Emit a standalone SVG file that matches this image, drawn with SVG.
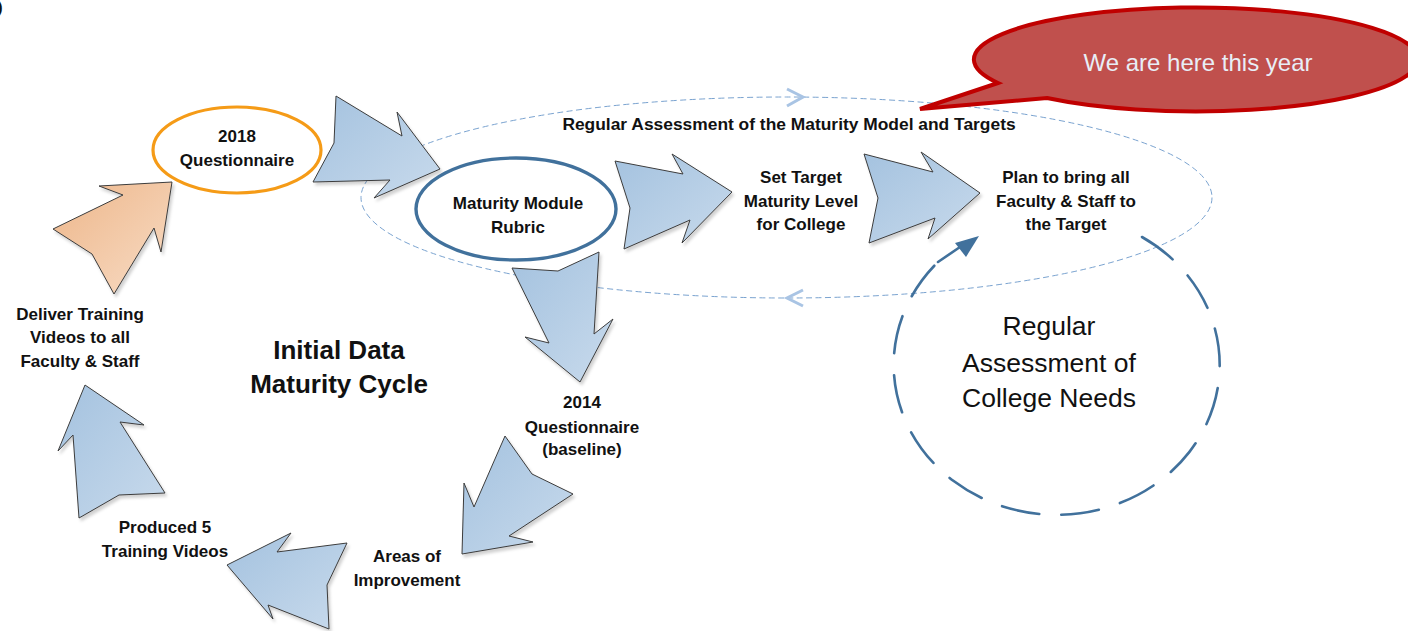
<svg xmlns="http://www.w3.org/2000/svg" width="1408" height="631" viewBox="0 0 1408 631">
  <defs>
    <linearGradient id="gBlue" x1="0" y1="0" x2="1" y2="1">
      <stop offset="0" stop-color="#A4C2DF"/>
      <stop offset="1" stop-color="#C8DAEC"/>
    </linearGradient>
    <linearGradient id="gOrange" x1="0" y1="0" x2="1" y2="1">
      <stop offset="0" stop-color="#EDB68A"/>
      <stop offset="1" stop-color="#F8DCC5"/>
    </linearGradient>
    <filter id="sh" x="-20%" y="-20%" width="140%" height="140%">
      <feDropShadow dx="2" dy="3" stdDeviation="1.5" flood-color="#000" flood-opacity="0.18"/>
    </filter>
  </defs>
  <style>
    .arrow { fill: url(#gBlue); stroke: #3C3C3C; stroke-width: 1; stroke-linejoin: miter; filter: url(#sh); }
    .arrowO { fill: url(#gOrange); stroke: #3C3C3C; stroke-width: 1; filter: url(#sh); }
    .lbl { font-family: "Liberation Sans", Arial, sans-serif; font-weight: bold; font-size: 17px; fill: #111; text-anchor: middle; }
    .big { font-family: "Liberation Sans", Arial, sans-serif; font-weight: bold; font-size: 26px; fill: #111; text-anchor: middle; }
    .reg { font-family: "Liberation Sans", Arial, sans-serif; font-size: 26.5px; fill: #111; text-anchor: middle; }
    .call { font-family: "Liberation Sans", Arial, sans-serif; font-size: 24px; fill: #E8EEF6; text-anchor: middle; }
  </style>

  <!-- clipped corner glyph -->
  <text x="-3" y="13" font-family="Liberation Sans, Arial, sans-serif" font-weight="bold" font-size="17" fill="#111">)</text>

  <!-- large dashed cycle ellipse -->
  <g id="assessment-loop">
    <ellipse cx="786.5" cy="197.5" rx="425.5" ry="100.5" fill="none" stroke="#7AA3D0" stroke-width="1" stroke-dasharray="6 3.5"/>
    <path d="M787,89 L803,97 L787,106" fill="none" stroke="#A9C4E4" stroke-width="3"/>
    <path d="M803,290 L787,298 L803,306" fill="none" stroke="#A9C4E4" stroke-width="3"/>
    <text class="lbl" x="789" y="130" style="font-size:17.4px">Regular Assessment of the Maturity Model and Targets</text>
  </g>

  <!-- dashed college-needs cycle -->
  <g id="college-needs">
    <path d="M1142,237 A163 150 0 1 1 938,262" fill="none" stroke="#41719C" stroke-width="2.6" stroke-dasharray="38 22" stroke-linecap="round"/>
    <path d="M938,262 L960,247" fill="none" stroke="#41719C" stroke-width="2.6" stroke-linecap="round"/>
    <polygon points="979,236 955,243 966,257" fill="#41719C"/>
    <text class="reg" x="1049" y="335">Regular</text>
    <text class="reg" x="1049" y="372">Assessment of</text>
    <text class="reg" x="1049" y="407">College Needs</text>
  </g>

  <!-- callout -->
  <g id="callout">
    <path d="M998,83 L920,109 L1047,98 A222 52 0 1 0 998,83 Z" fill="#C0504D" stroke="#C00000" stroke-width="4" stroke-linejoin="miter"/>
    <text class="call" x="1198" y="71">We are here this year</text>
  </g>

  <!-- connectors (block arrows) -->
  <g id="connectors">
    <polygon class="arrowO" points="172,182 161,252 154,228 114,294 92,254 53,229 123,195 99,186"/>
    <polygon class="arrow" points="336,96 402,136 397,112 440,169 374,198 390,180 313,182 334,143"/>
    <polygon class="arrow" points="615,161 683,174 672,154 732,192 682,243 690,220 624,249 630,208"/>
    <polygon class="arrow" points="864,154 933,172 921,152 980,193 928,239 935,218 869,243 878,198"/>
    <polygon class="arrow" points="512,268 558,271 599,252 594,334 613,319 580,382 525,337 549,343"/>
    <polygon class="arrow" points="505,436 532,474 573,494 509,536 533,542 462,554 464,483 474,507"/>
    <polygon class="arrow" points="227,565 273,619 268,605 329,629 327,585 347,543 277,552 291,533"/>
    <polygon class="arrow" points="85,385 144,425 120,422 165,493 119,495 79,518 73,435 58,451"/>
  </g>

  <!-- nodes -->
  <g id="q2018">
    <ellipse cx="237" cy="150" rx="84" ry="43" fill="#fff" stroke="#F59B17" stroke-width="3.2"/>
    <text class="lbl" x="237" y="142">2018</text>
    <text class="lbl" x="237" y="166">Questionnaire</text>
  </g>
  <g id="rubric">
    <ellipse cx="516" cy="209" rx="100" ry="51" fill="#fff" stroke="#41719C" stroke-width="3.4"/>
    <text class="lbl" x="518" y="209">Maturity Module</text>
    <text class="lbl" x="518" y="233">Rubric</text>
  </g>
  <g id="set-target">
    <text class="lbl" x="801" y="183">Set Target</text>
    <text class="lbl" x="801" y="207">Maturity Level</text>
    <text class="lbl" x="801" y="230">for College</text>
  </g>
  <g id="plan">
    <text class="lbl" x="1066" y="183">Plan to bring all</text>
    <text class="lbl" x="1066" y="207">Faculty &amp; Staff to</text>
    <text class="lbl" x="1066" y="230">the Target</text>
  </g>
  <g id="q2014">
    <text class="lbl" x="582" y="408">2014</text>
    <text class="lbl" x="582" y="433">Questionnaire</text>
    <text class="lbl" x="582" y="455">(baseline)</text>
  </g>
  <g id="areas">
    <text class="lbl" x="407" y="562">Areas of</text>
    <text class="lbl" x="407" y="586">Improvement</text>
  </g>
  <g id="produced">
    <text class="lbl" x="165" y="533">Produced 5</text>
    <text class="lbl" x="165" y="557">Training Videos</text>
  </g>
  <g id="deliver">
    <text class="lbl" x="80" y="320">Deliver Training</text>
    <text class="lbl" x="80" y="343">Videos to all</text>
    <text class="lbl" x="80" y="367">Faculty &amp; Staff</text>
  </g>
  <g id="cycle-title">
    <text class="big" x="339" y="359">Initial Data</text>
    <text class="big" x="339" y="393">Maturity Cycle</text>
  </g>
</svg>
